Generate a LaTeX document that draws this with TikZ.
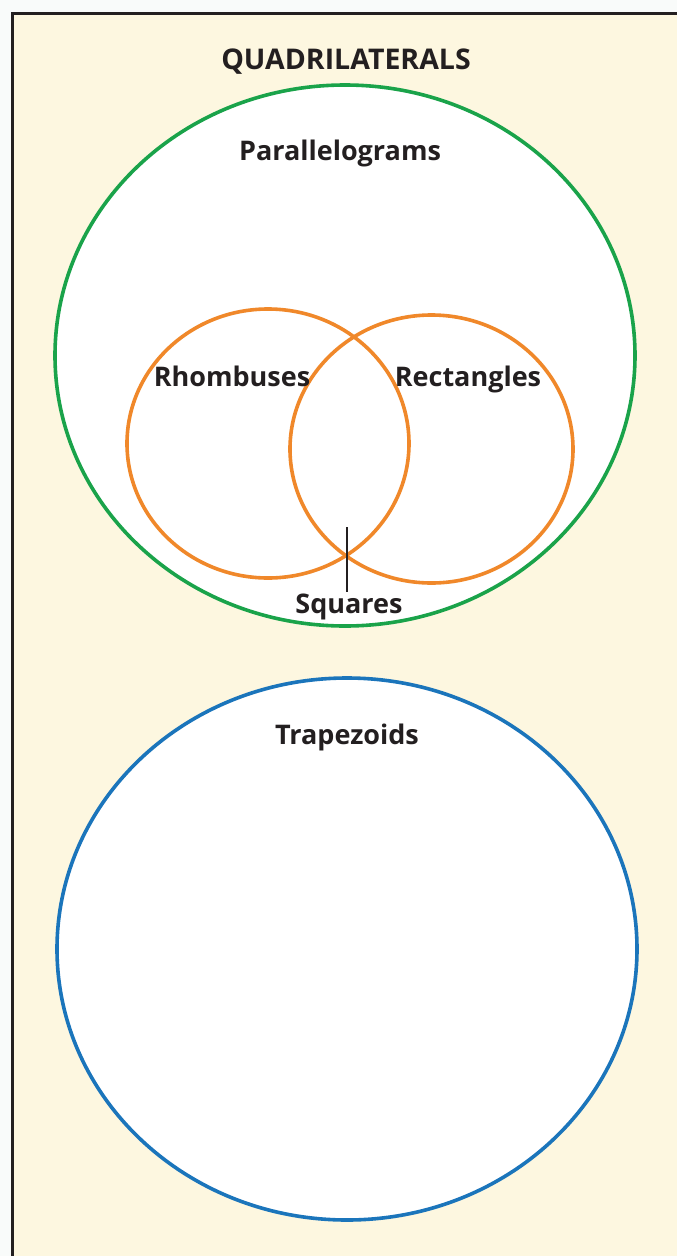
\documentclass[tikz,border=0pt]{standalone}
\usepackage{fontspec}
\setmainfont{Open Sans}
\definecolor{pagebg}{HTML}{F9FBFA}
\definecolor{cream}{HTML}{FDF7E0}
\definecolor{ink}{HTML}{231F20}
\definecolor{setgreen}{HTML}{1AA34A}
\definecolor{setorange}{HTML}{F0882A}
\definecolor{setblue}{HTML}{1B75BB}
\tikzset{
  setline/.style={line width=3.6pt},
  lbl/.style={font=\bfseries\fontsize{27}{30}\selectfont, text=ink, inner sep=0pt, anchor=base},
}
\begin{document}
\begin{tikzpicture}[x=1pt,y=-1pt]
  \useasboundingbox (0,0) rectangle (677,1256);
  \fill[pagebg] (0,0) rectangle (677,1256);
  \clip (0,0) rectangle (677,1256);
  % panel
  \draw[fill=cream, draw=ink, line width=3pt] (12.5,13.5) rectangle (700,1280);
  % sets
  \draw[setline, draw=setgreen, fill=white] (345,355.5) ellipse [x radius=290, y radius=270.5];
  \draw[setline, draw=setblue, fill=white] (347,949) ellipse [x radius=290, y radius=271];
  \draw[setline, draw=setorange] (268,443.5) ellipse [x radius=141, y radius=134.5];
  \draw[setline, draw=setorange] (431.5,449) ellipse [x radius=141.5, y radius=134];
  % labels
  \node[lbl, font=\bfseries\fontsize{28.5}{30}\selectfont] (title) at (346,69) {QUADRILATERALS};
  \node[lbl] (para) at (340,160) {Parallelograms};
  \node[lbl] (rhomb) at (232,386) {Rhombuses};
  \node[lbl] (rect) at (468,386) {Rectangles};
  \node[lbl] (sq) at (349,613) {Squares};
  \node[lbl] (trap) at (347,744) {Trapezoids};
  \coordinate (tick) at (347,527);
  \draw[ink, line width=2.2pt] (tick) -- (347,592);
\end{tikzpicture}
\end{document}
